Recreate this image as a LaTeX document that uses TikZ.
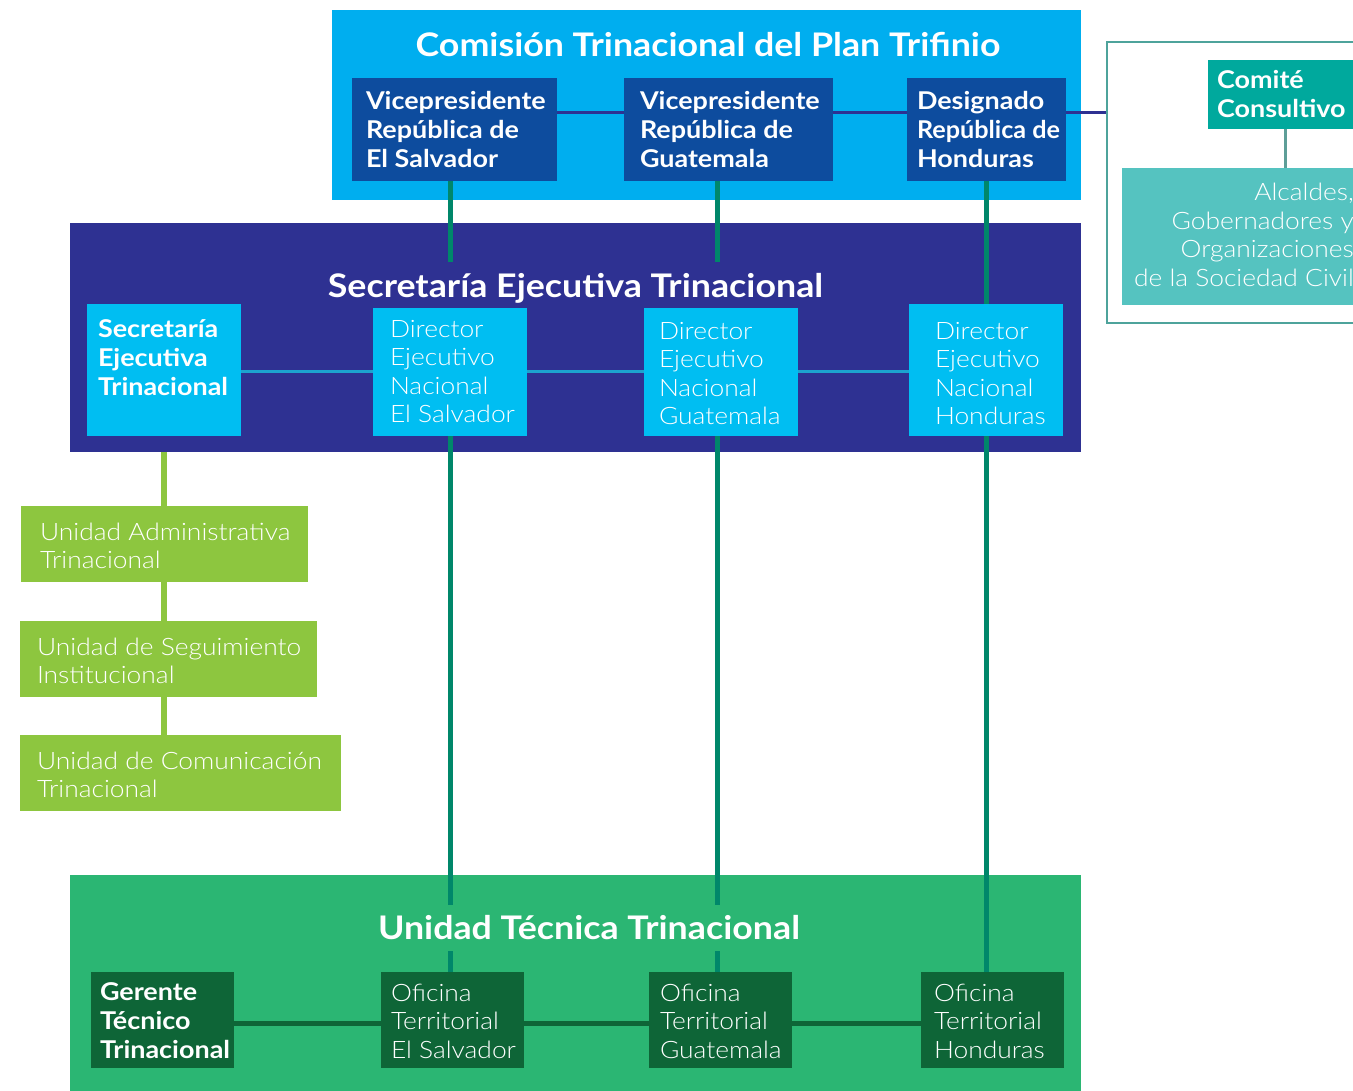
\documentclass[tikz,border=0pt]{standalone}
\usepackage{fontspec}
\setmainfont{Lato}[FakeStretch=1.1]
\IfFontExistsTF{Lato Light}{\newfontfamily\lightfont{Lato Light}[FakeStretch=1.1]}{\newfontfamily\lightfont{Lato}[FakeStretch=1.1]}
\definecolor{cyanband}{HTML}{00AEEF}
\definecolor{vpblue}{HTML}{0D4C9E}
\definecolor{indigo}{HTML}{2E3192}
\definecolor{dircyan}{HTML}{00BEF2}
\definecolor{comteal}{HTML}{00A99D}
\definecolor{frameteal}{HTML}{4EA39B}
\definecolor{alcteal}{HTML}{55C3C0}
\definecolor{lime}{HTML}{8DC63F}
\definecolor{utgreen}{HTML}{2BB673}
\definecolor{darkgreen}{HTML}{0E6537}
\definecolor{linegreen}{HTML}{00876A}
\definecolor{seccyan}{HTML}{1CA3CF}
\definecolor{stemgray}{HTML}{5E9E98}
\begin{document}
\begin{tikzpicture}[x=1pt,y=-1pt,
  plate/.style={rectangle, inner sep=0pt, draw=none},
  bandtitle/.style={text=white, font=\fontsize{32.5}{36}\selectfont\bfseries, inner xsep=6pt, inner ysep=0pt},
  boldtxt/.style={text=white, align=left, inner sep=0pt, font=\fontsize{24.5}{29}\selectfont\bfseries},
  lighttxt/.style={text=white, align=left, inner sep=0pt, font=\lightfont\fontsize{24}{28.5}\selectfont},
  unittxt/.style={text=white, align=left, inner sep=0pt, font=\lightfont\fontsize{24}{28}\selectfont},
  vconn/.style={draw=linegreen, line width=5pt},
  topconn/.style={draw=indigo, line width=3pt},
  secconn/.style={draw=seccyan, line width=3pt},
  utconn/.style={draw=darkgreen, line width=5pt},
  limeconn/.style={draw=lime, line width=6pt},
]
\useasboundingbox (0,0) rectangle (1353,1091);
\clip (0,0) rectangle (1353,1091);
\fill[white] (0,0) rectangle (1353,1091);

% bands
\node[plate, fill=cyanband, minimum width=749, minimum height=190] (comband) at (706.5,105) {};
\node[plate, fill=indigo, minimum width=1011, minimum height=229] (secband) at (575.5,337.5) {};
\node[plate, fill=utgreen, minimum width=1011, minimum height=220] (utband) at (575.5,985) {};

% comite frame
\node[plate, draw=frameteal, line width=2.5pt, minimum width=293, minimum height=281] (frame) at (1253.5,182.5) {};
\node[plate, fill=comteal, minimum width=192, minimum height=69] (comite) at (1304,94.5) {};
\node[boldtxt, anchor=west] (comitetxt) at ([xshift=9]comite.west) {Comité\\Consultivo};
\node[plate, fill=alcteal, minimum width=278, minimum height=137] (alc) at (1261,236.5) {};
\node[text=white, align=right, inner sep=0pt, font=\lightfont\fontsize{24}{28.7}\selectfont, anchor=east] (alctxt) at (1354,235) {Alcaldes,\\Gobernadores y\\Organizaciones\\de la Sociedad Civil};
\draw[draw=stemgray, line width=3pt] ([xshift=-19]comite.south) -- ([xshift=-19]comite.south |- alc.north);

% top boxes
\node[plate, fill=vpblue, minimum width=205, minimum height=103] (vpes) at (454.5,129.5) {};
\node[boldtxt, anchor=west] (vpestxt) at ([xshift=14]vpes.west) {Vicepresidente\\República de\\El Salvador};
\node[plate, fill=vpblue, minimum width=209, minimum height=103] (vpgt) at (728.5,129.5) {};
\node[boldtxt, anchor=west] (vpgttxt) at ([xshift=16]vpgt.west) {Vicepresidente\\República de\\Guatemala};
\node[plate, fill=vpblue, minimum width=159, minimum height=103] (deshn) at (986.5,129.5) {};
\node[boldtxt, anchor=west] (deshntxt) at ([xshift=10]deshn.west) {Designado\\\scalebox{0.935}[1]{República de}\\Honduras};

% secretaria boxes
\node[plate, fill=dircyan, minimum width=154, minimum height=132] (set) at (164,370) {};
\node[boldtxt, anchor=west] (settxt) at ([xshift=11,yshift=12]set.west) {Secretaría\\Ejecutiva\\Trinacional};
\node[plate, fill=dircyan, minimum width=154, minimum height=128] (dires) at (450,372) {};
\node[lighttxt, anchor=west] (direstxt) at ([xshift=17,yshift=0.5]dires.west) {Director\\Ejecutivo\\Nacional\\El Salvador};
\node[plate, fill=dircyan, minimum width=154, minimum height=128] (dirgt) at (721,372) {};
\node[lighttxt, anchor=west] (dirgttxt) at ([xshift=15,yshift=-1.5]dirgt.west) {Director\\Ejecutivo\\Nacional\\Guatemala};
\node[plate, fill=dircyan, minimum width=154, minimum height=132] (dirhn) at (986,370) {};
\node[lighttxt, anchor=west] (dirhntxt) at ([xshift=26,yshift=-3.5]dirhn.west) {Director\\Ejecutivo\\Nacional\\Honduras};

% units
\node[plate, fill=lime, minimum width=287, minimum height=76] (ua) at (164.5,544) {};
\node[unittxt, anchor=west] (uatxt) at ([xshift=19,yshift=-2]ua.west) {Unidad Administrativa\\Trinacional};
\node[plate, fill=lime, minimum width=297, minimum height=76] (us) at (168.5,659) {};
\node[unittxt, anchor=west] (ustxt) at ([xshift=17,yshift=-2]us.west) {Unidad de Seguimiento\\Institucional};
\node[plate, fill=lime, minimum width=321, minimum height=76] (uc) at (180.5,773) {};
\node[unittxt, anchor=west] (uctxt) at ([xshift=17,yshift=-2]uc.west) {Unidad de Comunicación\\Trinacional};

% UT boxes
\node[plate, fill=darkgreen, minimum width=143, minimum height=96] (gt) at (162.5,1020) {};
\node[boldtxt, anchor=west] (gttxt) at ([xshift=9,yshift=-1]gt.west) {Gerente\\Técnico\\Trinacional};
\node[plate, fill=darkgreen, minimum width=143, minimum height=96] (ofes) at (452.5,1020) {};
\node[lighttxt, anchor=west] (ofestxt) at ([xshift=10,yshift=-1]ofes.west) {Oficina\\Territorial\\El Salvador};
\node[plate, fill=darkgreen, minimum width=143, minimum height=96] (ofgt) at (720.5,1020) {};
\node[lighttxt, anchor=west] (ofgttxt) at ([xshift=11,yshift=-1]ofgt.west) {Oficina\\Territorial\\Guatemala};
\node[plate, fill=darkgreen, minimum width=143, minimum height=96] (ofhn) at (992.5,1020) {};
\node[lighttxt, anchor=west] (ofhntxt) at ([xshift=13,yshift=-1]ofhn.west) {Oficina\\Territorial\\Honduras};

% connectors
\draw[topconn] ([yshift=16.5]vpes.east) -- ([yshift=16.5]vpes.east -| vpgt.west);
\draw[topconn] ([yshift=16.5]vpgt.east) -- ([yshift=16.5]vpgt.east -| deshn.west);
\draw[topconn] ([yshift=16.5]deshn.east) -- ([yshift=16.5]deshn.east -| frame.west);

\draw[secconn] (dires.west -| set.east) -- (dires.west);
\draw[secconn] (dires.east) -- (dirgt.west);
\draw[secconn] (dirgt.east) -- (dirgt.east -| dirhn.west);

\draw[utconn] ([yshift=-3]ofes.west -| gt.east) -- ([yshift=-3]ofes.west);
\draw[utconn] ([yshift=-3]ofes.east) -- ([yshift=-3]ofgt.west);
\draw[utconn] ([yshift=-3]ofgt.east) -- ([yshift=-3]ofhn.west);

\draw[vconn] (dires.north |- vpes.south) -- (dires.north);
\draw[vconn] ([xshift=-4]dirgt.north |- vpgt.south) -- ([xshift=-4]dirgt.north);
\draw[vconn] (dirhn.north |- deshn.south) -- (dirhn.north);
\draw[vconn] (dires.south) -- (dires.south |- ofes.north);
\draw[vconn] ([xshift=-4]dirgt.south) -- ([xshift=-4]dirgt.south |- ofgt.north);
\draw[vconn] (dirhn.south) -- (dirhn.south |- ofhn.north);

\draw[limeconn] (set.south |- secband.south) -- (set.south |- ua.north);
\draw[limeconn] (set.south |- ua.south) -- (set.south |- us.north);
\draw[limeconn] (set.south |- us.south) -- (set.south |- uc.north);

% gaps in the connectors behind the band titles
\node[plate, fill=indigo, minimum width=480, minimum height=46] (secgap) at (575.5,285) {};
\node[plate, fill=utgreen, minimum width=410, minimum height=46] (utgap) at (589,928) {};

% band titles
\node[bandtitle] (comtitle) at (708,45) {Comisión Trinacional del Plan Trifinio};
\node[bandtitle] (sectitle) at (575.5,288) {Secretaría Ejecutiva Trinacional};
\node[bandtitle] (uttitle) at (589,928) {Unidad Técnica Trinacional};
\end{tikzpicture}
\end{document}
